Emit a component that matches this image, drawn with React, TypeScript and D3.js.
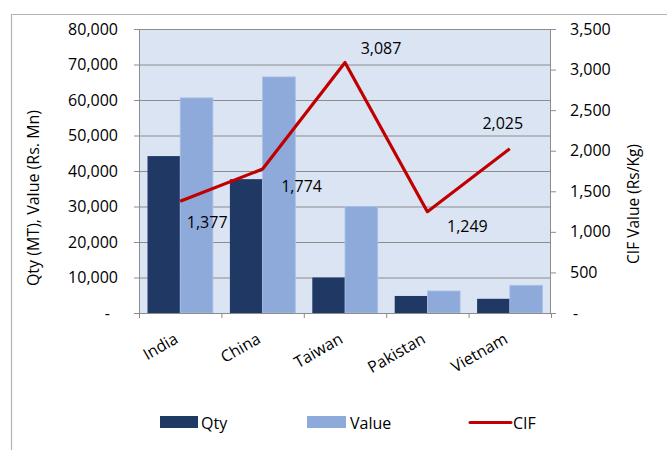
import React, { useEffect, useRef } from "react";
import * as d3 from "d3";

// chart data
const categories = ["India", "China", "Taiwan", "Pakistan", "Vietnam"];
const qty = [44200, 37700, 10000, 4800, 4000];
const value = [60600, 66500, 30000, 6200, 7800];
const cif = [1377, 1774, 3087, 1249, 2025];
const leftTicks = [0, 10000, 20000, 30000, 40000, 50000, 60000, 70000, 80000];
const rightTicks = [0, 500, 1000, 1500, 2000, 2500, 3000, 3500];

const FONT = "'Open Sans', sans-serif";
const FS = "16px";

const App = () => {
  const svgRef = useRef<SVGSVGElement>(null);

  useEffect(() => {
    const svg = d3.select(svgRef.current);
    svg.selectAll("*").remove();

    const left = 139, right = 551, top = 29, bottom = 313;

    const x0 = d3.scaleBand<string>().domain(categories).range([left, right]);
    const x1 = d3
      .scaleBand<string>()
      .domain(["qty", "value"])
      .range([0, x0.bandwidth()])
      .paddingInner(0)
      .paddingOuter(0.26);
    const yL = d3.scaleLinear().domain([0, 80000]).range([bottom, top]);
    const yR = d3.scaleLinear().domain([0, 3500]).range([bottom, top]);
    const fmt = (v: number) => (v === 0 ? "-" : d3.format(",")(v));

    // outer chart border
    svg
      .append("path")
      .attr("d", "M11.5,450 L11.5,14.5 L667,14.5")
      .attr("fill", "none")
      .attr("stroke", "#b3b3b3")
      .attr("stroke-width", 1.2);

    // plot background
    svg
      .append("rect")
      .attr("x", left)
      .attr("y", top)
      .attr("width", right - left)
      .attr("height", bottom - top)
      .attr("fill", "#dbe4f3");

    // gridlines
    svg
      .append("g")
      .selectAll("line")
      .data(leftTicks.filter(d => d > 0))
      .enter()
      .append("line")
      .attr("x1", left)
      .attr("x2", right)
      .attr("y1", d => yL(d) + 0.5)
      .attr("y2", d => yL(d) + 0.5)
      .attr("stroke", "#8c8c8c")
      .attr("stroke-width", 1);

    // bars
    const groups = svg
      .append("g")
      .selectAll("g")
      .data(categories)
      .enter()
      .append("g")
      .attr("transform", d => `translate(${x0(d)},0)`);
    groups
      .append("rect")
      .attr("x", x1("qty")!)
      .attr("y", (d, i) => yL(qty[i]))
      .attr("width", x1.bandwidth())
      .attr("height", (d, i) => bottom - yL(qty[i]))
      .attr("fill", "#203864");
    groups
      .append("rect")
      .attr("x", x1("value")!)
      .attr("y", (d, i) => yL(value[i]))
      .attr("width", x1.bandwidth())
      .attr("height", (d, i) => bottom - yL(value[i]))
      .attr("fill", "#8eaadb")
      .attr("stroke", "#a9c0e6")
      .attr("stroke-width", 0.8);

    // left axis
    const gL = svg.append("g").attr("transform", `translate(${left},0)`);
    gL.append("line")
      .attr("x1", 0.5).attr("x2", 0.5)
      .attr("y1", top).attr("y2", bottom)
      .attr("stroke", "#8c8c8c");
    gL.selectAll("line.tk")
      .data(leftTicks)
      .enter()
      .append("line")
      .attr("class", "tk")
      .attr("x1", -5).attr("x2", 0)
      .attr("y1", d => yL(d) + 0.5).attr("y2", d => yL(d) + 0.5)
      .attr("stroke", "#8c8c8c");
    gL.selectAll("text")
      .data(leftTicks)
      .enter()
      .append("text")
      .attr("x", d => (d === 0 ? -29 : -21))
      .attr("y", d => yL(d))
      .attr("dy", "0.35em")
      .attr("text-anchor", "end")
      .style("font-family", FONT)
      .style("font-size", FS)
      .text(fmt);

    // right axis
    const gR = svg.append("g").attr("transform", `translate(${right},0)`);
    gR.append("line")
      .attr("x1", -0.5).attr("x2", -0.5)
      .attr("y1", top).attr("y2", bottom)
      .attr("stroke", "#8c8c8c");
    gR.selectAll("line.tk")
      .data(rightTicks)
      .enter()
      .append("line")
      .attr("class", "tk")
      .attr("x1", 0).attr("x2", 5)
      .attr("y1", d => yR(d) + 0.5).attr("y2", d => yR(d) + 0.5)
      .attr("stroke", "#8c8c8c");
    gR.selectAll("text")
      .data(rightTicks)
      .enter()
      .append("text")
      .attr("x", d => (d === 0 ? 22 : 19))
      .attr("y", d => yR(d))
      .attr("dy", "0.35em")
      .attr("text-anchor", "start")
      .style("font-family", FONT)
      .style("font-size", FS)
      .text(fmt);

    // bottom axis
    const gB = svg.append("g");
    gB.append("line")
      .attr("x1", left).attr("x2", right)
      .attr("y1", bottom + 0.5).attr("y2", bottom + 0.5)
      .attr("stroke", "#8c8c8c");
    gB.selectAll("line.tk")
      .data(categories.map(c => x0(c)!).concat([right]))
      .enter()
      .append("line")
      .attr("class", "tk")
      .attr("x1", d => d + 0.5).attr("x2", d => d + 0.5)
      .attr("y1", bottom).attr("y2", bottom + 5)
      .attr("stroke", "#8c8c8c");
    gB.selectAll("text")
      .data(categories)
      .enter()
      .append("text")
      .attr("transform", d => `translate(${x0(d)! + x0.bandwidth() / 2 - 1},${bottom + 29}) rotate(-30)`)
      .attr("text-anchor", "end")
      .style("font-family", FONT)
      .style("font-size", FS)
      .text(d => d);

    // CIF line
    const cx = (i: number) => x0(categories[i])! + x0.bandwidth() / 2;
    const line = d3
      .line<number>()
      .x((d, i) => cx(i))
      .y(d => yR(d));
    svg
      .append("path")
      .datum(cif)
      .attr("d", line)
      .attr("fill", "none")
      .attr("stroke", "#c00000")
      .attr("stroke-width", 3.2)
      .attr("stroke-linejoin", "round");

    // CIF data labels (manually placed as in the reference)
    const labelOffsets = [[27, 21], [39, 17], [36, -14], [40, 15], [-7, -25]];
    svg
      .append("g")
      .selectAll("text")
      .data(cif)
      .enter()
      .append("text")
      .attr("x", (d, i) => cx(i) + labelOffsets[i][0])
      .attr("y", (d, i) => yR(d) + labelOffsets[i][1])
      .attr("dy", "0.35em")
      .attr("text-anchor", "middle")
      .style("font-family", FONT)
      .style("font-size", FS)
      .text(d => d3.format(",")(d));

    // axis titles
    svg
      .append("text")
      .attr("transform", "translate(39,198) rotate(-90)")
      .attr("text-anchor", "middle")
      .style("font-family", FONT)
      .style("font-size", "16px")
      .text("Qty (MT), Value (Rs. Mn)");
    svg
      .append("text")
      .attr("transform", "translate(639,204) rotate(-90)")
      .attr("text-anchor", "middle")
      .style("font-family", FONT)
      .style("font-size", "15.5px")
      .text("CIF Value (Rs/Kg)");

    // legend
    const legend = svg.append("g");
    legend.append("rect").attr("x", 160).attr("y", 416).attr("width", 38).attr("height", 12).attr("fill", "#203864");
    legend.append("rect").attr("x", 307).attr("y", 416).attr("width", 39).attr("height", 12).attr("fill", "#8eaadb");
    legend.append("line").attr("x1", 470).attr("x2", 511).attr("y1", 422.5).attr("y2", 422.5)
      .attr("stroke", "#c00000").attr("stroke-width", 3).attr("stroke-linecap", "round");
    legend
      .selectAll("text")
      .data([["Qty", 201], ["Value", 350], ["CIF", 513]] as [string, number][])
      .enter()
      .append("text")
      .attr("x", d => d[1])
      .attr("y", 423)
      .attr("dy", "0.35em")
      .style("font-family", FONT)
      .style("font-size", FS)
      .text(d => d[0]);
  }, []);

  return (
    <svg
      ref={svgRef}
      width={667}
      height={450}
      style={{ position: "absolute", left: 0, top: 0, background: "#fff" }}
    ></svg>
  );
};

export default App;
